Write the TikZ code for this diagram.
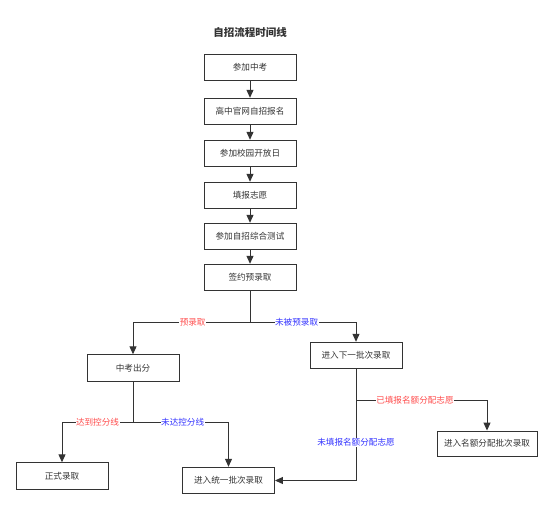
\documentclass[tikz,border=0pt]{standalone}
\usepackage{fontspec}
\setmainfont{Noto Sans CJK SC}
\usetikzlibrary{arrows.meta}
\definecolor{lc}{HTML}{333333}
\definecolor{lred}{HTML}{FF4D4D}
\definecolor{lblue}{HTML}{3333FF}
\tikzset{
  box/.style={draw=lc, line width=0.9pt, minimum width=92pt, minimum height=26.5pt, inner sep=0pt, font=\fontsize{8.6}{10}\selectfont, text=lc},
  conn/.style={draw=lc, line width=1pt, -{Triangle[length=8pt,width=7pt]}},
  lab/.style={fill=white, inner sep=0.5pt, font=\fontsize{8.6}{10}\selectfont},
}
\begin{document}
\begin{tikzpicture}[x=1pt,y=-1pt]
\useasboundingbox (0,0) rectangle (553,511);
\node[font=\bfseries\fontsize{10.5}{12}\selectfont, text=lc] (title) at (250,32) {自招流程时间线};
\node[box] (a) at (250,67.5) {参加中考};
\node[box] (b) at (250,111.5) {高中官网自招报名};
\node[box] (c) at (250,153.5) {参加校园开放日};
\node[box] (d) at (250,195.5) {填报志愿};
\node[box] (e) at (250,236.5) {参加自招综合测试};
\node[box] (f) at (250,277.5) {签约预录取};
\node[box] (g) at (133,368) {中考出分};
\node[box] (h) at (356,355.5) {进入下一批次录取};
\node[box] (i) at (62,476) {正式录取};
\node[box] (j) at (228.5,480.5) {进入统一批次录取};
\node[box, minimum width=100pt, minimum height=25pt] (k) at (487,443.5) {进入名额分配批次录取};
\coordinate (f1) at (250,322.5);
\coordinate (g1) at (133,422.5);
\coordinate (h1) at (356,400);
\draw[conn] (a) -- (b);
\draw[conn] (b) -- (c);
\draw[conn] (c) -- (d);
\draw[conn] (d) -- (e);
\draw[conn] (e) -- (f);
\draw[conn] (f.south) -- (f1) -| node[lab, text=lred, pos=0.245] {预录取} (g.north);
\draw[conn] (f1) -| node[lab, text=lblue, pos=0.22] {未被预录取} (h.north);
\draw[conn] (g.south) -- (g1) -| node[lab, text=lred, pos=0.25] {达到控分线} (i.north);
\draw[conn] (g1) -| node[lab, text=lblue, pos=0.26] {未达控分线} (j.north);
\draw[conn] (h.south) |- node[lab, text=lblue, pos=0.33] {未填报名额分配志愿} (j.east);
\draw[conn] (h1) -| node[lab, text=lred, pos=0.225] {已填报名额分配志愿} (k.north);
\end{tikzpicture}
\end{document}
